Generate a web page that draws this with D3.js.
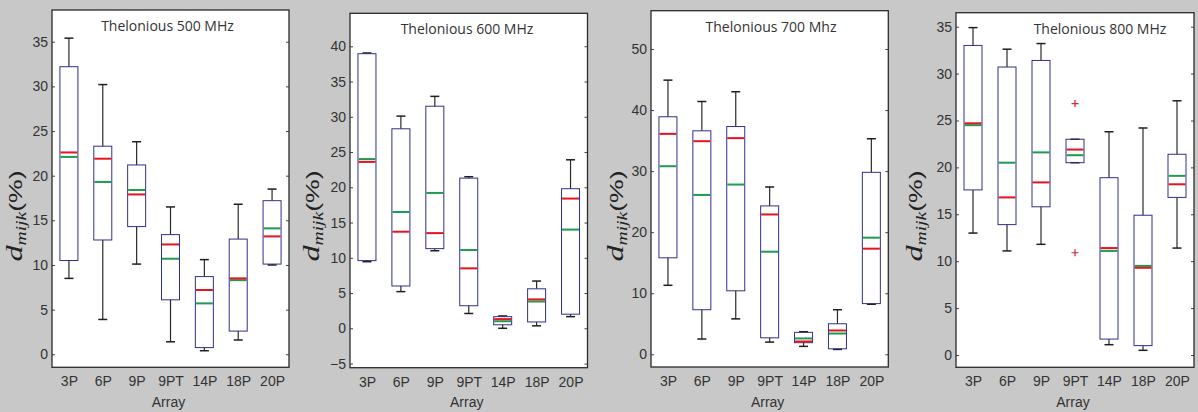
<!DOCTYPE html>
<html>
<head>
<meta charset="utf-8">
<script src="https://cdn.jsdelivr.net/npm/d3@7"></script>
<style>
  body { margin: 0; background: #c8c8c8; }
  svg { display: block; }
</style>
</head>
<body>
<svg id="chart" width="1198" height="412"></svg>
<script>
// Categories and panel titles
const categories = ['3P', '6P', '9P', '9PT', '14P', '18P', '20P'];
const titles = ['Thelonious 500 MHz', 'Thelonious 600 MHz', 'Thelonious 700 Mhz', 'Thelonious 800 MHz'];

// One row per panel (500, 600, 700, 800), one value per array
const whiskerHigh = [
  [35.4, 30.2, 23.8, 16.5, 10.6, 16.8, 18.5],
  [39.05, 30.1, 32.9, 21.5, 1.75, 6.7, 23.9],
  [44.9, 41.4, 43.0, 27.4, 3.7, 7.3, 35.3],
  [34.9, 32.6, 33.2, 23.0, 23.8, 24.2, 27.1]
];
const boxTop = [
  [32.2, 23.3, 21.2, 13.4, 8.7, 12.9, 17.2],
  [38.95, 28.3, 31.5, 21.3, 1.65, 5.6, 19.8],
  [38.9, 36.6, 37.3, 24.3, 3.6, 5.0, 29.8],
  [33.0, 30.7, 31.4, 23.0, 18.9, 14.9, 21.4]
];
const boxBottom = [
  [10.5, 12.8, 14.3, 6.1, 0.75, 2.6, 10.1],
  [9.6, 6.0, 11.3, 3.2, 0.5, 0.9, 2.0],
  [15.8, 7.3, 10.4, 2.7, 1.9, 0.9, 8.3],
  [17.6, 13.9, 15.8, 20.5, 1.7, 1.0, 16.8]
];
const whiskerLow = [
  [8.5, 3.9, 10.1, 1.4, 0.4, 1.6, 10.0],
  [9.45, 5.2, 11.0, 2.1, 0.0, 0.35, 1.65],
  [11.3, 2.5, 5.8, 2.0, 1.3, 0.8, 8.2],
  [13.0, 11.1, 11.8, 20.5, 1.1, 0.5, 11.4]
];
const redLine = [
  [22.6, 21.9, 17.9, 12.3, 7.2, 8.5, 13.2],
  [23.6, 13.7, 13.5, 8.5, 1.3, 4.1, 18.4],
  [36.1, 34.9, 35.4, 22.9, 2.1, 3.9, 17.3],
  [24.7, 16.8, 18.4, 21.9, 11.4, 9.3, 18.2]
];
const greenLine = [
  [22.1, 19.3, 18.4, 10.7, 5.7, 8.3, 14.1],
  [24.0, 16.5, 19.2, 11.1, 1.0, 3.8, 14.0],
  [30.8, 26.1, 27.8, 16.8, 2.6, 3.4, 19.1],
  [24.5, 20.5, 21.6, 21.3, 11.1, 9.5, 19.1]
];
const outlierCats = [[], [], [], ['9PT', '9PT']];
const outlierValues = [[], [], [], [26.8, 10.9]];
const yTicks = [
  [0, 5, 10, 15, 20, 25, 30, 35],
  [-5, 0, 5, 10, 15, 20, 25, 30, 35, 40],
  [0, 10, 20, 30, 40, 50],
  [0, 5, 10, 15, 20, 25, 30, 35]
];

// Panel layout (pixels) and value range shown by each frame
const layout = [
  { left: 52, right: 289, top: 10, bottom: 367.3, domain: [-1.456, 38.55], titleX: 115.5, labelX: -30 },
  { left: 350, right: 587.5, top: 13.3, bottom: 367.7, domain: [-5.59, 44.68], titleX: 117, labelX: -31 },
  { left: 651, right: 888.3, top: 10.7, bottom: 367, domain: [-2.08, 56.27], titleX: 120, labelX: -28 },
  { left: 956, right: 1194, top: 12.7, bottom: 367.3, domain: [-1.31, 36.49], titleX: 144, labelX: -34 }
];

const svg = d3.select('#chart');
const boxW = 18, capW = 9;

layout.forEach((p, i) => {
  const g = svg.append('g');
  const x = d3.scalePoint().domain(categories).range([p.left, p.right]).padding(0.5);
  const y = d3.scaleLinear().domain(p.domain).range([p.bottom, p.top]);

  // white plot area
  g.append('rect')
    .attr('x', p.left).attr('y', p.top)
    .attr('width', p.right - p.left).attr('height', p.bottom - p.top)
    .attr('fill', '#fff');

  // y axis with inward ticks
  const yAxis = g.append('g')
    .attr('transform', `translate(${p.left},0)`)
    .call(d3.axisLeft(y).tickValues(yTicks[i]).tickSize(-3).tickPadding(4));
  yAxis.select('.domain').remove();
  yAxis.selectAll('line').attr('stroke', '#444');
  yAxis.selectAll('text')
    .attr('font-family', 'Liberation Sans, Arial, sans-serif')
    .attr('font-size', 14).attr('fill', '#333');

  const yAxisR = g.append('g')
    .attr('transform', `translate(${p.right},0)`)
    .call(d3.axisRight(y).tickValues(yTicks[i]).tickSize(-3).tickFormat(''));
  yAxisR.select('.domain').remove();
  yAxisR.selectAll('line').attr('stroke', '#444');

  // x axis labels
  const xAxis = g.append('g')
    .attr('transform', `translate(0,${p.bottom})`)
    .call(d3.axisBottom(x).tickSize(0).tickPadding(9));
  xAxis.select('.domain').remove();
  xAxis.selectAll('text')
    .attr('font-family', 'Liberation Sans, Arial, sans-serif')
    .attr('font-size', 14).attr('fill', '#333');

  // boxes
  const rows = categories.map((c, j) => ({
    c, lo: whiskerLow[i][j], q1: boxBottom[i][j], q3: boxTop[i][j], hi: whiskerHigh[i][j],
    red: redLine[i][j], green: greenLine[i][j]
  }));

  const b = g.selectAll('.bx').data(rows).enter().append('g').attr('class', 'bx');

  b.append('line')
    .attr('x1', d => x(d.c)).attr('x2', d => x(d.c))
    .attr('y1', d => y(d.hi)).attr('y2', d => y(d.q3))
    .attr('stroke', '#2a2a2a').attr('stroke-width', 1.2);
  b.append('line')
    .attr('x1', d => x(d.c)).attr('x2', d => x(d.c))
    .attr('y1', d => y(d.q1)).attr('y2', d => y(d.lo))
    .attr('stroke', '#2a2a2a').attr('stroke-width', 1.2);
  b.append('line')
    .attr('x1', d => x(d.c) - capW / 2).attr('x2', d => x(d.c) + capW / 2)
    .attr('y1', d => y(d.hi)).attr('y2', d => y(d.hi))
    .attr('stroke', '#1e1e1e').attr('stroke-width', 1.5);
  b.append('line')
    .attr('x1', d => x(d.c) - capW / 2).attr('x2', d => x(d.c) + capW / 2)
    .attr('y1', d => y(d.lo)).attr('y2', d => y(d.lo))
    .attr('stroke', '#1e1e1e').attr('stroke-width', 1.5);

  b.append('rect')
    .attr('x', d => x(d.c) - boxW / 2).attr('width', boxW)
    .attr('y', d => y(d.q3)).attr('height', d => y(d.q1) - y(d.q3))
    .attr('fill', 'none').attr('stroke', '#30308c').attr('stroke-width', 1);

  b.append('line')
    .attr('x1', d => x(d.c) - boxW / 2 + 0.5).attr('x2', d => x(d.c) + boxW / 2 - 0.5)
    .attr('y1', d => y(d.green)).attr('y2', d => y(d.green))
    .attr('stroke', '#1f9a4e').attr('stroke-width', 2);
  b.append('line')
    .attr('x1', d => x(d.c) - boxW / 2 + 0.5).attr('x2', d => x(d.c) + boxW / 2 - 0.5)
    .attr('y1', d => y(d.red)).attr('y2', d => y(d.red))
    .attr('stroke', '#e3141e').attr('stroke-width', 2);

  // outliers
  g.selectAll('.out').data(outlierValues[i].map((v, k) => ({ v, c: outlierCats[i][k] })))
    .enter().append('path')
    .attr('d', d => `M${x(d.c) - 3.5},${y(d.v)}h7M${x(d.c)},${y(d.v) - 3.5}v7`)
    .attr('stroke', '#d8203a').attr('stroke-width', 1.2).attr('fill', 'none');

  // frame
  g.append('rect')
    .attr('x', p.left).attr('y', p.top)
    .attr('width', p.right - p.left).attr('height', p.bottom - p.top)
    .attr('fill', 'none').attr('stroke', '#2a2a2a').attr('stroke-width', 1.3);

  // title
  g.append('text')
    .attr('x', p.left + p.titleX).attr('y', p.top + 21)
    .attr('text-anchor', 'middle')
    .attr('font-family', 'Open Sans, sans-serif').attr('font-size', 14)
    .attr('fill', '#333')
    .text(titles[i]);

  // x label
  g.append('text')
    .attr('x', (p.left + p.right) / 2 - 2).attr('y', 407)
    .attr('text-anchor', 'middle')
    .attr('font-family', 'Liberation Sans, Arial, sans-serif').attr('font-size', 14)
    .attr('fill', '#333')
    .text('Array');

  // y label  d_mijk(%)
  const yl = g.append('text')
    .attr('transform', `translate(${p.left + p.labelX},216) rotate(-90) scale(1.4,1)`)
    .attr('text-anchor', 'middle')
    .attr('fill', '#222');
  yl.append('tspan')
    .attr('font-family', 'Liberation Serif, serif').attr('font-style', 'italic')
    .attr('font-size', 23).text('d');
  yl.append('tspan')
    .attr('font-family', 'Liberation Serif, serif').attr('font-style', 'italic')
    .attr('font-size', 14).attr('dy', 4).text('mijk');
  yl.append('tspan')
    .attr('font-family', 'Liberation Sans, Arial, sans-serif')
    .attr('font-size', 19).attr('dy', -4).text('(%)');
});
</script>
</body>
</html>
